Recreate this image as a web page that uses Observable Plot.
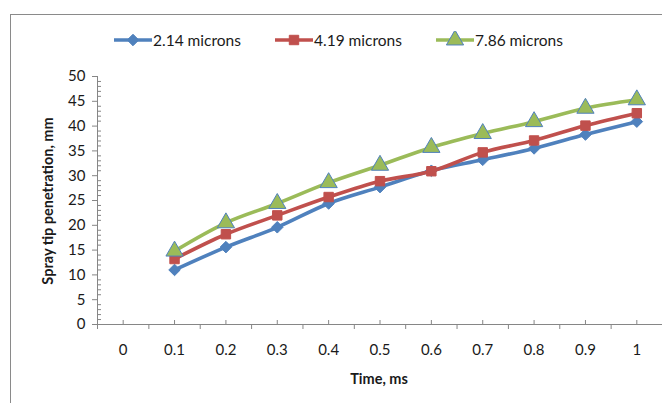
<!DOCTYPE html>
<html><head><meta charset="utf-8">
<script src="https://cdn.jsdelivr.net/npm/d3@7"></script>
<script src="https://cdn.jsdelivr.net/npm/@observablehq/plot@0.6"></script>
<style>
body{margin:0;background:#fff;}
#wrap{position:relative;width:662px;height:403px;overflow:hidden;font-family:Lato,"Open Sans",sans-serif;color:#1a1a1a;}
#border{position:absolute;left:10px;top:14px;width:720px;height:440px;border:1px solid #8a8a8a;}
#chart{position:absolute;left:0;top:0;}
.item{position:absolute;top:31px;height:18px;display:flex;align-items:center;font-size:15.5px;white-space:nowrap;}
.item svg{margin-right:1px;}
.title{position:absolute;font-weight:bold;font-size:14.5px;white-space:nowrap;}
#ytitle{left:47px;top:201px;transform:translate(-50%,-50%) rotate(-90deg);}
#xtitle{left:379px;top:378px;transform:translate(-50%,-50%);}
</style></head>
<body><div id="wrap"><div id="border"></div><div id="chart"></div>
<div id="legend"></div>
<div class="title" id="ytitle"></div><div class="title" id="xtitle"></div></div>
<script>
const categories = [0, 0.1, 0.2, 0.3, 0.4, 0.5, 0.6, 0.7, 0.8, 0.9, 1];
const times = [0.1, 0.2, 0.3, 0.4, 0.5, 0.6, 0.7, 0.8, 0.9, 1];
const s214 = [11.0, 15.6, 19.6, 24.4, 27.7, 31.0, 33.2, 35.5, 38.3, 40.9];
const s419 = [13.2, 18.2, 22.0, 25.7, 28.9, 30.9, 34.7, 37.1, 40.1, 42.6];
const s786 = [14.8, 20.5, 24.4, 28.6, 32.1, 35.7, 38.5, 40.9, 43.6, 45.3];
const seriesNames = ["2.14 microns", "4.19 microns", "7.86 microns"];
const yTicks = [0, 5, 10, 15, 20, 25, 30, 35, 40, 45, 50];
const yTitle = "Spray tip penetration, mm";
const xTitle = "Time, ms";

const colors = ["#4F81BD", "#C0504D", "#9BBB59"];
const symbols = ["diamond2", "square2", "triangle"];
const radii = [5.2, 6.0, 6.4];
const strokes = ["#4F81BD", "#C0504D", "#4F81BD"];

const allSeries = [s214, s419, s786];
const data = allSeries.flatMap((s, i) => s.map((v, j) => ({t: times[j], v, series: seriesNames[i], k: i})));

const step = categories[1] - categories[0];
const lo = categories[0] - step / 2, hi = categories[categories.length - 1] + step / 2;
const boundaries = [...categories.map(c => c - step / 2), hi];
const minorY = d3.range(0, 51, 1).filter(d => d % 5 !== 0);
const axisColor = "#868686";

const marks = [
  Plot.ruleY([0], {stroke: axisColor, strokeWidth: 1}),
  Plot.ruleX([lo], {stroke: axisColor, strokeWidth: 1}),
  Plot.axisY({ticks: minorY, tickSize: -4, text: null, stroke: axisColor, label: null}),
  Plot.axisY({ticks: yTicks, tickSize: 5, tickPadding: 7, fontSize: 15, stroke: axisColor, label: null}),
  Plot.axisX({ticks: boundaries, tickSize: 5, text: null, stroke: axisColor, label: null}),
  Plot.axisX({ticks: categories, tickSize: -4, text: null, stroke: axisColor, label: null}),
  Plot.axisX({ticks: categories, tickSize: 0, tickPadding: 20, fontSize: 15, tickFormat: d => String(d), label: null}),
];
allSeries.forEach((s, i) => {
  const d = data.filter(r => r.k === i);
  marks.push(Plot.line(d, {x: "t", y: "v", stroke: colors[i], strokeWidth: 3.6, curve: "catmull-rom"}));
  marks.push(Plot.dot(d, {x: "t", y: "v", symbol: () => symbols[i], r: radii[i], fill: colors[i], stroke: strokes[i], strokeWidth: 1}));
});

const plot = Plot.plot({
  width: 662, height: 403,
  marginLeft: 97, marginRight: 0, marginTop: 76, marginBottom: 79,
  style: {fontFamily: 'Lato, "Open Sans", sans-serif', fontSize: "15px", color: "#1a1a1a", background: "transparent"},
  x: {domain: [lo, hi], axis: null},
  y: {domain: [0, 50], axis: null},
  symbol: {type: "identity"},
  marks
});
document.getElementById("chart").appendChild(plot);
document.getElementById("ytitle").textContent = yTitle;
document.getElementById("xtitle").textContent = xTitle;

// legend
const lefts = [114, 275, 436];
const legend = document.getElementById("legend");
seriesNames.forEach((name, i) => {
  const div = document.createElement("div");
  div.className = "item";
  div.style.left = lefts[i] + "px";
  const w = 38, h = 18;
  const sym = d3.symbol(i === 0 ? d3.symbolDiamond2 : i === 1 ? d3.symbolSquare2 : d3.symbolTriangle, Math.PI * radii[i] * radii[i])();
  div.innerHTML = `<svg width="${w}" height="${h}"><line x1="0" x2="${w}" y1="${h/2}" y2="${h/2}" stroke="${colors[i]}" stroke-width="3.6"/>` +
    `<path d="${sym}" transform="translate(${w/2},${h/2})" fill="${colors[i]}" stroke="${strokes[i]}"/></svg><span>${name}</span>`;
  legend.appendChild(div);
});
</script></body></html>
